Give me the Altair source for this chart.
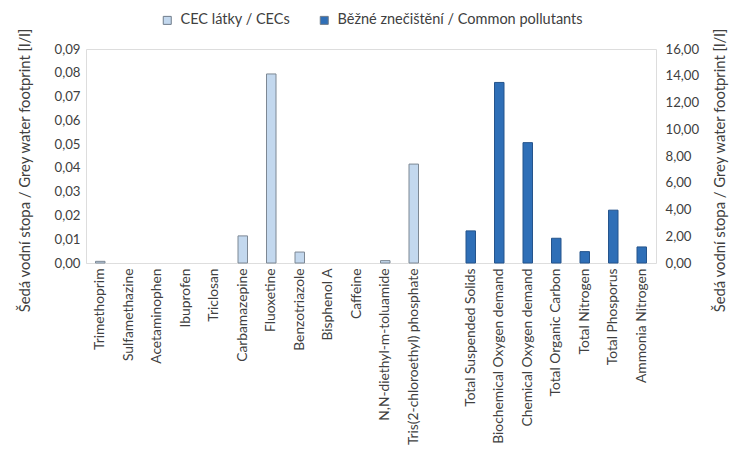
import altair as alt
import pandas as pd

cec_names = ["Trimethoprim", "Sulfamethazine", "Acetaminophen", "Ibuprofen", "Triclosan",
             "Carbamazepine", "Fluoxetine", "Benzotriazole", "Bisphenol A", "Caffeine",
             "N,N-diethyl-m-toluamide", "Tris(2-chloroethyl) phosphate"]
cec_values = [0.0007, 0.0, 0.0, 0.0, 0.0, 0.0114, 0.0795, 0.0046, 0.0, 0.0, 0.0010, 0.0416]

common_names = ["Total Suspended Solids", "Biochemical Oxygen demand", "Chemical Oxygen demand",
                "Total Organic Carbon", "Total Nitrogen", "Total Phosporus", "Ammonia Nitrogen"]
common_values = [2.40, 13.50, 9.00, 1.85, 0.85, 3.95, 1.20]

groups = ["CEC látky / CECs", "Běžné znečištění / Common pollutants"]
left_ticks = [0.0, 0.01, 0.02, 0.03, 0.04, 0.05, 0.06, 0.07, 0.08, 0.09]
right_ticks = [0, 2, 4, 6, 8, 10, 12, 14, 16]
axis_title = "Šedá vodní stopa / Grey water footprint [l/l]"

spacer = " "
x_domain = cec_names + [spacer] + common_names

cec_df = pd.DataFrame({"name": cec_names, "value": cec_values, "group": groups[0]})
cec_df = cec_df[cec_df["value"] > 0]
common_df = pd.DataFrame({"name": common_names, "value": common_values, "group": groups[1]})

FONT = "Lato"
TXT = "#404040"
W = "normal"

x_enc = alt.X("name:N", sort=x_domain,
              scale=alt.Scale(domain=x_domain, paddingInner=0.6, paddingOuter=0.3),
              axis=alt.Axis(title=None, labelAngle=270, labelPadding=5, labelFontSize=13.8,
                            labelColor=TXT, labelFont=FONT, labelFontWeight=W, ticks=False,
                            domainColor="#dedede", domainDash=[3, 2], labelLimit=300))

color_enc = alt.Color("group:N",
                      scale=alt.Scale(domain=groups, range=["#c3d8ee", "#2f6fb7"]),
                      legend=alt.Legend(title=None, orient="none", direction="horizontal",
                                        legendX=74, legendY=-36, symbolType="square",
                                        symbolSize=64, symbolStrokeColor="#6f7c8a",
                                        symbolStrokeWidth=1, labelFontSize=14.5,
                                        labelFont=FONT, labelFontWeight=W, labelColor=TXT,
                                        columnPadding=26, labelOffset=6, labelLimit=400))

left = alt.Chart(cec_df).mark_bar(size=9.5, stroke="#7d8894", strokeWidth=1).encode(
    x=x_enc,
    y=alt.Y("value:Q", scale=alt.Scale(domain=[0, 0.09], nice=False),
            axis=alt.Axis(orient="left", title=axis_title, values=left_ticks,
                          labelExpr="replace(format(datum.value, '.2f'), '.', ',')",
                          grid=False, domain=False, ticks=False, labelPadding=6,
                          labelFontSize=13.2, labelColor=TXT, labelFont=FONT,
                          labelFontWeight=W,
                          titleFont=FONT, titleFontSize=14.8, titleFontWeight=W,
                          titleColor=TXT, titleAngle=270, titleX=-61, titleY=121,
                          titleAlign="center", titleBaseline="middle")),
    color=color_enc,
)

right = alt.Chart(common_df).mark_bar(size=9.5, stroke="#25548c", strokeWidth=1).encode(
    x=x_enc,
    y=alt.Y("value:Q", scale=alt.Scale(domain=[0, 16], nice=False),
            axis=alt.Axis(orient="right", title=axis_title, values=right_ticks,
                          labelExpr="replace(format(datum.value, '.2f'), '.', ',')",
                          grid=False, domain=False, ticks=False, labelPadding=9,
                          labelFontSize=13.2, labelColor=TXT, labelFont=FONT,
                          labelFontWeight=W,
                          titleFont=FONT, titleFontSize=14.8, titleFontWeight=W,
                          titleColor=TXT, titleAngle=270, titleX=64, titleY=121,
                          titleAlign="center", titleBaseline="middle")),
    color=color_enc,
)

chart = alt.layer(left, right).resolve_scale(y="independent").properties(
    width=570, height=214,
    padding={"left": 78, "top": 41, "right": 73, "bottom": 184},
    autosize="none",
).configure_view(stroke=None).configure(font=FONT)

chart.save("out.html", embed_options={"renderer": "svg", "actions": False})
